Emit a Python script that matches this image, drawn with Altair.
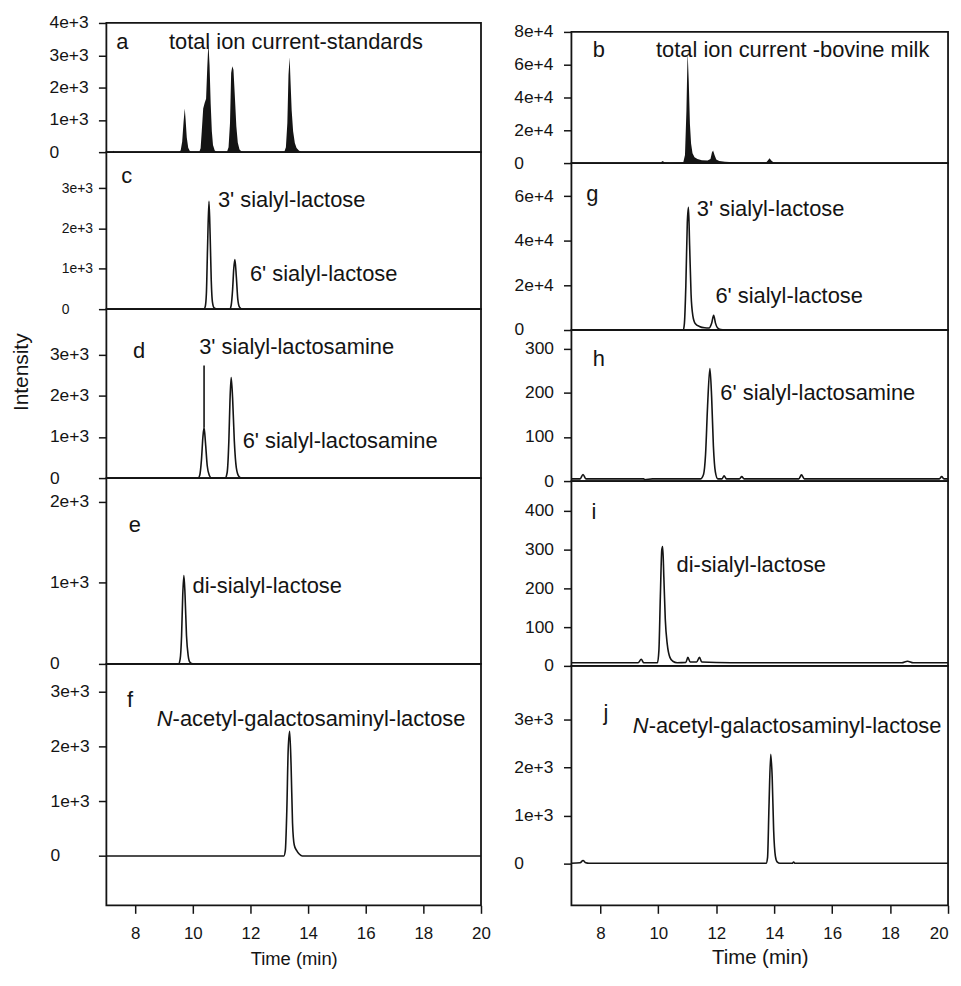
import altair as alt
import pandas as pd

FONT = "Liberation Sans"
INK = "#141414"

# ---------------- shared x axis ----------------
x_domain = [7, 20]
x_ticks = [8, 10, 12, 14, 16, 18, 20]

# ---------------- left column: standards (time min, intensity) ----------------
a_trace = [(7.0, 0), (7.22, 0), (7.25, 40), (7.28, 0), (9.52, 0), (9.58, 60), (9.63, 320), (9.68, 950),
           (9.72, 1350), (9.75, 1000), (9.79, 450), (9.84, 140), (9.9, 30), (9.96, 0),
           (10.22, 0), (10.27, 120), (10.31, 650), (10.36, 1350), (10.41, 1520), (10.46, 1650),
           (10.5, 2600), (10.54, 3380), (10.58, 2700), (10.62, 1500), (10.66, 650), (10.7, 220),
           (10.76, 50), (10.85, 0), (11.18, 0), (11.24, 150), (11.29, 900), (11.33, 2450),
           (11.37, 2660), (11.41, 2550), (11.46, 1700), (11.51, 800), (11.56, 300), (11.62, 80),
           (11.7, 15), (11.8, 0), (12.3, 0), (12.32, 25), (12.34, 0), (12.55, 0), (12.57, 25),
           (12.59, 0), (13.17, 0), (13.23, 150), (13.28, 900), (13.32, 2400), (13.36, 2940),
           (13.39, 2200), (13.43, 1300), (13.48, 650), (13.54, 280), (13.6, 130), (13.68, 50),
           (13.78, 0), (20.0, 0)]
c_trace = [(7.0, 0), (10.38, 0), (10.43, 60), (10.47, 380), (10.51, 1500), (10.56, 2670), (10.6, 1850),
           (10.64, 700), (10.68, 180), (10.74, 30), (10.85, 0), (11.28, 0), (11.33, 90), (11.38, 480),
           (11.42, 1000), (11.46, 1230), (11.51, 800), (11.56, 250), (11.62, 50), (11.72, 0), (20.0, 0)]
d_trace = [(7.0, 0), (10.18, 0), (10.24, 70), (10.3, 450), (10.35, 1000), (10.39, 1230), (10.44, 850),
           (10.5, 300), (10.57, 70), (10.65, 0), (11.12, 0), (11.19, 130), (11.25, 900), (11.29, 1900),
           (11.33, 2450), (11.38, 1950), (11.44, 900), (11.51, 250), (11.6, 40), (11.7, 0), (20.0, 0)]
d_leader = [(10.39, 1230, 2740)]
e_trace = [(7.0, 0), (9.5, 0), (9.56, 60), (9.61, 350), (9.65, 850), (9.69, 1090), (9.73, 850),
           (9.78, 350), (9.84, 100), (9.9, 20), (10.0, 0), (20.0, 0)]
f_trace = [(7.0, 0), (13.16, 0), (13.21, 100), (13.26, 800), (13.31, 1950), (13.36, 2280), (13.41, 1650),
           (13.46, 600), (13.52, 200), (13.6, 100), (13.7, 30), (13.8, 0), (20.0, 0)]

# ---------------- right column: bovine milk ----------------
b_trace = [(7.0, 0), (7.98, 0), (8.0, 300), (8.02, 0), (10.08, 0), (10.12, 900), (10.16, 1300), (10.2, 500),
           (10.3, 200), (10.4, 0), (10.86, 300), (10.92, 5000), (10.97, 32000), (11.01, 68000),
           (11.05, 50000), (11.09, 24000), (11.13, 12000), (11.18, 6000), (11.25, 3500), (11.35, 2500),
           (11.5, 1800), (11.7, 1500), (11.8, 2500), (11.85, 6500), (11.89, 7700), (11.94, 5000),
           (12.0, 2200), (12.1, 1300), (12.3, 800), (12.6, 500), (13.0, 300), (13.72, 300), (13.78, 1500),
           (13.84, 3000), (13.9, 1500), (13.98, 300), (14.5, 100), (16.0, 50), (19.76, 0), (19.8, 300),
           (19.84, 0), (20.0, 0)]
g_trace = [(7.0, 0), (10.86, 0), (10.9, 3000), (10.95, 20000), (11.0, 48000), (11.04, 55000),
           (11.08, 38000), (11.13, 16000), (11.19, 6500), (11.28, 2800), (11.42, 1600), (11.6, 1000),
           (11.75, 900), (11.84, 3000), (11.91, 6600), (11.97, 3200), (12.04, 1000), (12.15, 200),
           (12.3, 0), (20.0, 0)]
h_trace = [(7.0, 5), (7.3, 5), (7.4, 15), (7.5, 5), (9.5, 5), (9.52, 3), (9.8, 5), (11.45, 5), (11.56, 15),
           (11.63, 60), (11.7, 170), (11.78, 255), (11.84, 190), (11.9, 80), (11.97, 20), (12.05, 5),
           (12.2, 5), (12.27, 12), (12.35, 5), (12.8, 5), (12.88, 10), (12.96, 5), (14.85, 5), (14.94, 14),
           (15.04, 5), (19.7, 5), (19.78, 10), (19.86, 5), (20.0, 5)]
i_trace = [(7.0, 8), (9.3, 8), (9.41, 17), (9.5, 8), (9.97, 8), (10.02, 40), (10.07, 180), (10.12, 300),
           (10.15, 308), (10.19, 230), (10.24, 120), (10.31, 55), (10.4, 22), (10.5, 12), (10.65, 8),
           (10.95, 9), (11.02, 22), (11.1, 10), (11.32, 10), (11.42, 22), (11.5, 10), (12.5, 8),
           (18.4, 8), (18.6, 12), (18.8, 8), (20.0, 8)]
j_trace = [(7.0, 0), (7.3, 10), (7.4, 60), (7.5, 10), (7.6, 0), (13.72, 0), (13.77, 120), (13.82, 1200),
           (13.88, 2280), (13.93, 1800), (13.98, 700), (14.04, 150), (14.1, 30), (14.2, 0), (14.62, 0),
           (14.67, 25), (14.72, 0), (20.0, 0)]

# ---------------- annotations (text, time, intensity) ----------------
a_notes = [("a", 7.34, 3180), ("total ion current-standards", 9.17, 3180)]
c_notes = [("c", 7.52, 3120), ("3' sialyl-lactose", 10.87, 2540), ("6' sialyl-lactose", 11.98, 700)]
d_notes = [("d", 7.92, 2920), ("3' sialyl-lactosamine", 10.22, 3030), ("6' sialyl-lactosamine", 11.73, 740)]
e_notes = [("e", 7.78, 1620), ("di-sialyl-lactose", 9.99, 870)]
f_notes = [("f", 7.72, 2730)]
f_italic = [("N", "-acetyl-galactosaminyl-lactose", 8.75, 2380)]
b_notes = [("b", 7.74, 64800), ("total ion current -bovine milk", 9.92, 64400)]
g_notes = [("g", 7.51, 57900), ("3' sialyl-lactose", 11.33, 51200), ("6' sialyl-lactose", 11.97, 11900)]
h_notes = [("h", 7.74, 260), ("6' sialyl-lactosamine", 12.14, 184)]
i_notes = [("i", 7.69, 378), ("di-sialyl-lactose", 10.63, 242)]
j_notes = [("j", 8.11, 2990)]
j_italic = [("N", "-acetyl-galactosaminyl-lactose", 9.12, 2730)]

# y tick values
exp_left_4 = [0, 1000, 2000, 3000, 4000]
exp_left_3 = [0, 1000, 2000, 3000]
exp_left_2 = [0, 1000, 2000]
b_ticks = [0, 20000, 40000, 60000, 80000]
g_ticks = [0, 20000, 40000, 60000]
h_ticks = [0, 100, 200, 300]
i_ticks = [0, 100, 200, 300, 400]

EXP = "datum.value == 0 ? '0' : format(datum.value, '.0e')"
INT = "format(datum.value, 'd')"

NOTE_SIZE = 22


def yaxis(ticks, expr, size, pad, align, title=None, tx=0, ty=0):
    kw = dict(values=ticks, labelExpr=expr, labelFontSize=size, labelPadding=pad,
              labelAlign=align, labelOverlap=False, labelBound=False, tickSize=8, grid=False, domain=False)
    if title:
        kw.update(title=title, titleX=tx, titleY=ty, titleAngle=270, titleAlign="center",
                  titleBaseline="middle", titleFontSize=21, titleFontWeight="normal")
    return alt.Axis(**kw)


def xaxis(title_size, flush, title_pad):
    return alt.Axis(values=x_ticks, format="d", tickSize=8, labelPadding=12, labelFontSize=17,
                    labelFlush=flush, labelOverlap=False, title="Time (min)", titleFontSize=title_size,
                    titleFontWeight="normal", titlePadding=title_pad, grid=False, domain=False)


def panel(trace, dom, ax, width, height, notes, kind="line", x_ax=None,
          italic=None, leader=None):
    df = pd.DataFrame(trace, columns=["t", "y"])
    xs = alt.Scale(domain=x_domain, nice=False, zero=False)
    ys = alt.Scale(domain=dom, nice=False, zero=False)
    if x_ax is None:
        X = alt.X("t:Q", scale=xs, axis=None)
    else:
        X = alt.X("t:Q", scale=xs, axis=x_ax)
    if ax.to_dict().get("title"):
        Y = alt.Y("y:Q", scale=ys, axis=ax)
    else:
        Y = alt.Y("y:Q", scale=ys, axis=ax, title=None)
    base = alt.Chart(df)
    if kind == "area":
        m = base.mark_area(color=INK, interpolate="linear").encode(x=X, y=Y)
    else:
        m = base.mark_line(color=INK, strokeWidth=1.6, interpolate="monotone").encode(x=X, y=Y)
    layers = [m]
    ndf = pd.DataFrame(notes, columns=["label", "t", "y"])
    layers.append(alt.Chart(ndf).mark_text(align="left", baseline="alphabetic", fontSize=NOTE_SIZE,
                                           color=INK, font=FONT).encode(x=X, y=Y, text="label:N"))
    if italic:
        idf = pd.DataFrame(italic, columns=["first", "rest", "t", "y"])
        layers.append(alt.Chart(idf).mark_text(align="left", baseline="alphabetic", fontSize=NOTE_SIZE,
                                               fontStyle="italic", color=INK, font=FONT).encode(
            x=X, y=Y, text="first:N"))
        layers.append(alt.Chart(idf).mark_text(align="left", baseline="alphabetic", fontSize=NOTE_SIZE,
                                               dx=15.9, color=INK, font=FONT).encode(
            x=X, y=Y, text="rest:N"))
    if leader:
        ldf = pd.DataFrame(leader, columns=["t", "y", "y2"])
        layers.append(alt.Chart(ldf).mark_rule(color=INK, strokeWidth=1.6).encode(
            x=X, y=Y, y2="y2:Q"))
    return alt.layer(*layers).properties(width=width, height=height)


LW = 377
RW = 379

left = alt.vconcat(
    panel(a_trace, [0, 4000], yaxis(exp_left_4, EXP, 17.5, 49.7, "left"), LW, 130, a_notes, kind="area"),
    panel(c_trace, [0, 3890], yaxis(exp_left_3, EXP, 14, 37.5, "left"), LW, 158, c_notes),
    panel(d_trace, [0, 4115], yaxis(exp_left_3, EXP, 17.5, 49.3, "left", title="Intensity", tx=-85, ty=63),
          LW, 170, d_notes, leader=d_leader),
    panel(e_trace, [0, 2290], yaxis(exp_left_2, EXP, 17.5, 49.3, "left"), LW, 187, e_notes),
    panel(f_trace, [-905, 3515], yaxis(exp_left_3, EXP, 17.5, 48.7, "left"), LW, 243, f_notes,
          x_ax=xaxis(18.5, False, 9), italic=f_italic),
    spacing=0, bounds="flush",
)

# empty strip that lowers the right-hand frame below the left-hand one
top_gap = alt.Chart(pd.DataFrame({"t": [7.0]})).mark_point(opacity=0, size=1).encode(
    x=alt.value(0), y=alt.value(5)
).properties(width=RW, height=9, view=alt.ViewBackground(strokeOpacity=0))

right = alt.vconcat(
    top_gap,
    panel(b_trace, [0, 80000], yaxis(b_ticks, EXP, 17.5, 50, "left"), RW, 132, b_notes, kind="area"),
    panel(g_trace, [0, 74800], yaxis(g_ticks, EXP, 17.5, 49.7, "left"), RW, 168, g_notes),
    panel(h_trace, [0, 342], yaxis(h_ticks, INT, 17.5, 10, "right"), RW, 152, h_notes),
    panel(i_trace, [0, 477], yaxis(i_ticks, INT, 17.5, 10, "right"), RW, 186, i_notes),
    panel(j_trace, [-880, 4130], yaxis(exp_left_3, EXP, 17.5, 50, "left"), RW, 241, j_notes,
          x_ax=xaxis(20.5, True, 7), italic=j_italic),
    spacing=0, bounds="flush",
)

chart = alt.hconcat(left, right, spacing=21).properties(
    padding={"left": 2, "top": 2, "right": 0, "bottom": 0}
).configure_view(
    stroke=INK, strokeWidth=1.8
).configure_axis(
    labelFont=FONT, titleFont=FONT, labelColor=INK, titleColor=INK, tickColor=INK, tickWidth=1.5
).configure_text(font=FONT)

chart.save("out.html", embed_options={"renderer": "svg", "actions": False})
